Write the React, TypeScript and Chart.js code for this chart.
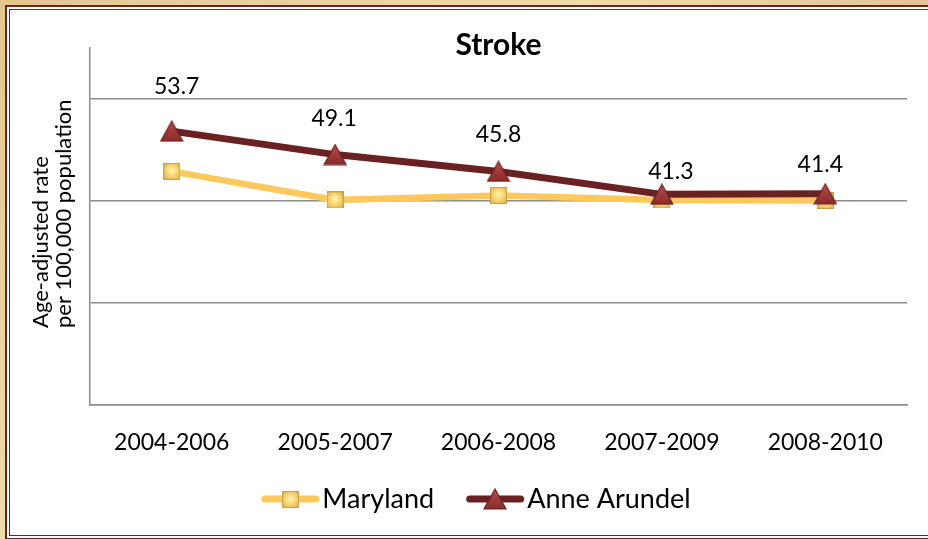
import React, { useEffect, useRef } from "react";
import { Chart, registerables } from "chart.js";

Chart.register(...registerables);

// ---- data ----
const categories = ["2004-2006", "2005-2007", "2006-2008", "2007-2009", "2008-2010"];
const marylandValues = [45.8, 40.2, 41.1, 40.2, 40.1];
const anneArundelValues = [53.7, 49.1, 45.8, 41.3, 41.4];
const seriesNames = ["Maryland", "Anne Arundel"];
const chartTitle = "Stroke";
const yTitleLines = ["Age-adjusted rate", "per 100,000 population"];

// ---- styles ----
const FONT = "Lato, 'Noto Sans', sans-serif";
const GRID = "#8c8c8c";
const MD_LINE = "#ffc85c";
const AA_LINE = "#6a2121";

const LEGEND_BOX = 67.5;
const LEGEND_FONT = 27;
const LEGEND_PAD = 12;

// label offsets relative to each Anne Arundel point (manually placed labels)
const labelDx = [5, -1, 0, 9, -5];
const labelDy = [-45, -36, -37, -23, -29];

function makeSquareMarker(): HTMLCanvasElement {
  const c = document.createElement("canvas");
  c.width = 17;
  c.height = 17;
  const g = c.getContext("2d")!;
  const grad = g.createRadialGradient(8.5, 7.5, 1, 8.5, 8.5, 10);
  grad.addColorStop(0, "#fff0a8");
  grad.addColorStop(0.5, "#f8d570");
  grad.addColorStop(1, "#e2b450");
  g.fillStyle = grad;
  g.fillRect(0.5, 0.5, 16, 16);
  g.strokeStyle = "#c9a24e";
  g.lineWidth = 1;
  g.strokeRect(0.5, 0.5, 16, 16);
  return c;
}

function makeTriangleMarker(): HTMLCanvasElement {
  const c = document.createElement("canvas");
  c.width = 24;
  c.height = 22;
  const g = c.getContext("2d")!;
  const grad = g.createLinearGradient(0, 1, 0, 21);
  grad.addColorStop(0, "#b84c4c");
  grad.addColorStop(1, "#8a2a2a");
  g.beginPath();
  g.moveTo(12, 1);
  g.lineTo(23, 21);
  g.lineTo(1, 21);
  g.closePath();
  g.fillStyle = grad;
  g.fill();
  g.strokeStyle = "#6a2222";
  g.lineWidth = 1.2;
  g.stroke();
  return c;
}

const plotCenteredTitle = {
  id: "plotCenteredTitle",
  afterLayout(chart: any) {
    const t = chart.titleBlock;
    if (t) {
      t.left = chart.chartArea.left;
      t.right = chart.chartArea.right;
    }
  },
};

const yTitlePlugin = {
  id: "yTitleLeftAligned",
  afterDraw(chart: any) {
    const { ctx, chartArea } = chart;
    ctx.save();
    ctx.fillStyle = "#000";
    ctx.font = `22px ${FONT}`;
    ctx.textAlign = "left";
    ctx.textBaseline = "middle";
    ctx.translate(chartArea.left - 49, chartArea.bottom - 77);
    ctx.rotate(-Math.PI / 2);
    yTitleLines.forEach((line, i) => ctx.fillText(line, 0, i * 23));
    ctx.restore();
  },
};

const valueLabelPlugin = {
  id: "valueLabels",
  afterDatasetsDraw(chart: any) {
    const { ctx } = chart;
    const meta = chart.getDatasetMeta(1);
    ctx.save();
    ctx.fillStyle = "#000";
    ctx.font = `23px ${FONT}`;
    ctx.textAlign = "center";
    ctx.textBaseline = "middle";
    meta.data.forEach((pt: any, i: number) => {
      ctx.fillText(anneArundelValues[i].toFixed(1), pt.x + labelDx[i], pt.y + labelDy[i]);
    });
    ctx.restore();
  },
};

const legendSymbolPlugin = {
  id: "legendSymbols",
  afterDraw(chart: any) {
    const legend = chart.legend;
    if (!legend || !legend.legendHitBoxes) return;
    const { ctx } = chart;
    legend.legendHitBoxes.forEach((hb: any, i: number) => {
      const item = legend.legendItems[i];
      const ds: any = chart.data.datasets[item.datasetIndex];
      const textStart = hb.left + LEGEND_BOX + LEGEND_FONT / 2;
      const x2 = textStart - 3;
      const x1 = x2 - 58;
      const cy = hb.top + hb.height / 2;
      ctx.save();
      ctx.strokeStyle = ds.borderColor;
      ctx.lineWidth = 7;
      ctx.lineCap = "round";
      ctx.beginPath();
      ctx.moveTo(x1 + 3.5, cy);
      ctx.lineTo(x2 - 3.5, cy);
      ctx.stroke();
      const img = ds.pointStyle as HTMLCanvasElement;
      ctx.drawImage(img, Math.round((x1 + x2) / 2 - img.width / 2), Math.round(cy - img.height / 2));
      ctx.restore();
    });
  },
};

export default function App() {
  const ref = useRef<HTMLCanvasElement>(null);

  useEffect(() => {
    const canvas = ref.current;
    if (!canvas) return;
    const square = makeSquareMarker();
    const triangle = makeTriangleMarker();
    const chart = new Chart(canvas, {
      type: "line",
      data: {
        labels: categories,
        datasets: [
          {
            label: seriesNames[0],
            data: marylandValues,
            borderColor: MD_LINE,
            backgroundColor: MD_LINE,
            borderWidth: 6.5,
            pointStyle: square,
            pointRadius: 9,
            pointHoverRadius: 9,
            tension: 0,
            order: 1,
          },
          {
            label: seriesNames[1],
            data: anneArundelValues,
            borderColor: AA_LINE,
            backgroundColor: AA_LINE,
            borderWidth: 7,
            pointStyle: triangle,
            pointRadius: 12,
            pointHoverRadius: 12,
            tension: 0,
            order: 0,
          },
        ],
      } as any,
      options: {
        responsive: false,
        animation: false,
        devicePixelRatio: 1,
        events: [],
        layout: { padding: { left: 25, right: 21, top: 0, bottom: 16.5 } },
        plugins: {
          title: {
            display: true,
            text: chartTitle,
            color: "#000",
            font: { family: FONT, size: 30, weight: "bold", lineHeight: 1.2 },
            padding: { top: 27, bottom: -15 },
          },
          legend: {
            position: "bottom",
            labels: {
              boxWidth: LEGEND_BOX,
              boxHeight: 10,
              padding: LEGEND_PAD,
              color: "#000",
              font: { family: FONT, size: LEGEND_FONT },
              sort: (a: any, b: any) => a.datasetIndex - b.datasetIndex,
              generateLabels: (c: any) =>
                (Chart.defaults.plugins.legend.labels as any)
                  .generateLabels(c)
                  .map((l: any) => ({ ...l, pointStyle: "rect", fillStyle: "rgba(0,0,0,0)", strokeStyle: "rgba(0,0,0,0)", lineWidth: 0 })),
            },
          },
          tooltip: { enabled: false },
        },
        scales: {
          x: {
            offset: true,
            grid: { display: false, offset: true },
            border: { display: true, color: GRID, width: 1.5 },
            ticks: { color: "#000", font: { family: FONT, size: 23 }, padding: 16, maxRotation: 0, autoSkip: false },
            afterFit: (s: any) => {
              s.height = 68.5;
            },
          },
          y: {
            min: 0,
            max: 70,
            ticks: { display: false, stepSize: 20 },
            grid: {
              color: (ctx: any) => (ctx.tick && ctx.tick.value === 70 ? "rgba(0,0,0,0)" : GRID),
              lineWidth: 1.5,
              drawTicks: false,
            },
            border: { display: true, color: GRID, width: 1.5 },
            afterFit: (s: any) => {
              s.width = 65;
            },
          },
        },
      } as any,
      plugins: [plotCenteredTitle, yTitlePlugin, valueLabelPlugin, legendSymbolPlugin],
    });
    return () => chart.destroy();
  }, []);

  return (
    <div style={{ position: "relative", width: 928, height: 539, overflow: "hidden", background: "linear-gradient(135deg,#e2c88d,#efdcab 40%,#dfc287 70%,#ead39e)" }}>
      <style>{"body{margin:0}"}</style>
      <div
        style={{
          position: "absolute",
          left: 5,
          top: 5,
          width: 1000,
          height: 534.5,
          boxSizing: "border-box",
          border: "2px solid #6e2323",
          background: "#fff",
        }}
      />
      <div
        style={{
          position: "absolute",
          left: 9,
          top: 9,
          width: 1000,
          height: 527,
          boxSizing: "border-box",
          border: "1.5px solid #6e2323",
        }}
      />
      <canvas ref={ref} width={928} height={539} style={{ position: "absolute", left: 0, top: 0, width: 928, height: 539 }} />
    </div>
  );
}
